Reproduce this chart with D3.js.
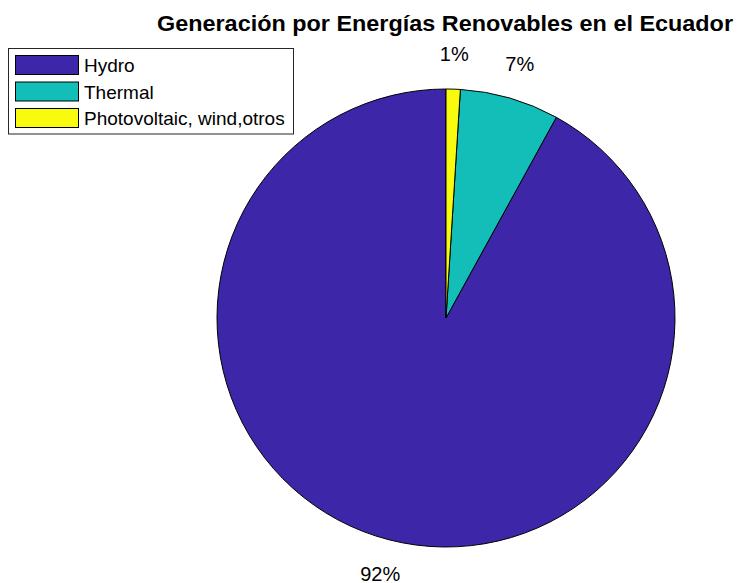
<!DOCTYPE html>
<html>
<head>
<meta charset="utf-8">
<script src="https://cdn.jsdelivr.net/npm/d3@7"></script>
<style>
  html, body { margin: 0; padding: 0; background: #fff; }
  svg { display: block; }
  text { font-family: "Liberation Sans", Arial, Helvetica, sans-serif; }
</style>
</head>
<body>
<svg id="chart" width="739" height="583"></svg>
<script>
// Renewable generation shares (percent)
const categories = ["Hydro", "Thermal", "Photovoltaic, wind,otros"];
const values = [92, 7, 1];
const colors = ["#3E26A8", "#13BEB8", "#F9FB0E"];
const title = "Generación por Energías Renovables en el Ecuador";

const cx = 446, cy = 318, R = 229;

const svg = d3.select("#chart");

// Slices run counter-clockwise from 12 o'clock, first category first
const pie = d3.pie().sort(null).value(d => d)
  .startAngle(0).endAngle(-2 * Math.PI);
const arcs = pie(values);
const arc = d3.arc().innerRadius(0).outerRadius(R);

const g = svg.append("g").attr("transform", `translate(${cx},${cy})`);

g.selectAll("path.slice")
  .data(arcs)
  .join("path")
  .attr("class", "slice")
  .attr("d", arc)
  .attr("fill", (d, i) => colors[i])
  .attr("stroke", "#000")
  .attr("stroke-width", 1);

// Percentage labels outside each slice
const total = d3.sum(values);
const labelArc = d3.arc().innerRadius(R * 1.155).outerRadius(R * 1.155);
g.selectAll("text.pct")
  .data(arcs)
  .join("text")
  .attr("class", "pct")
  .attr("transform", d => `translate(${labelArc.centroid(d)})`)
  .attr("text-anchor", "middle")
  .attr("dominant-baseline", "central")
  .attr("font-size", 20)
  .attr("fill", "#000")
  .text(d => Math.round(d.data / total * 100) + "%");

// Title
svg.append("text")
  .attr("x", 445)
  .attr("y", 31)
  .attr("text-anchor", "middle")
  .attr("font-size", 21.5)
  .attr("font-weight", "bold")
  .attr("textLength", 576)
  .attr("lengthAdjust", "spacingAndGlyphs")
  .attr("fill", "#000")
  .text(title);

// Legend
const leg = svg.append("g").attr("transform", "translate(8,48)");
leg.append("rect")
  .attr("x", 0.5).attr("y", 0.5)
  .attr("width", 285).attr("height", 85.5)
  .attr("fill", "#fff")
  .attr("stroke", "#262626")
  .attr("stroke-width", 1);

const rowY = d3.scalePoint().domain(categories).range([17, 70]);
const items = leg.selectAll("g.item")
  .data(categories)
  .join("g")
  .attr("class", "item")
  .attr("transform", d => `translate(0,${rowY(d)})`);

items.append("rect")
  .attr("x", 7.5).attr("y", -9.5)
  .attr("width", 63).attr("height", 19)
  .attr("fill", (d, i) => colors[i])
  .attr("stroke", "#000")
  .attr("stroke-width", 1);

items.append("text")
  .attr("x", 76)
  .attr("y", 7)
  .attr("font-size", 19)
  .attr("fill", "#000")
  .text(d => d);
</script>
</body>
</html>
